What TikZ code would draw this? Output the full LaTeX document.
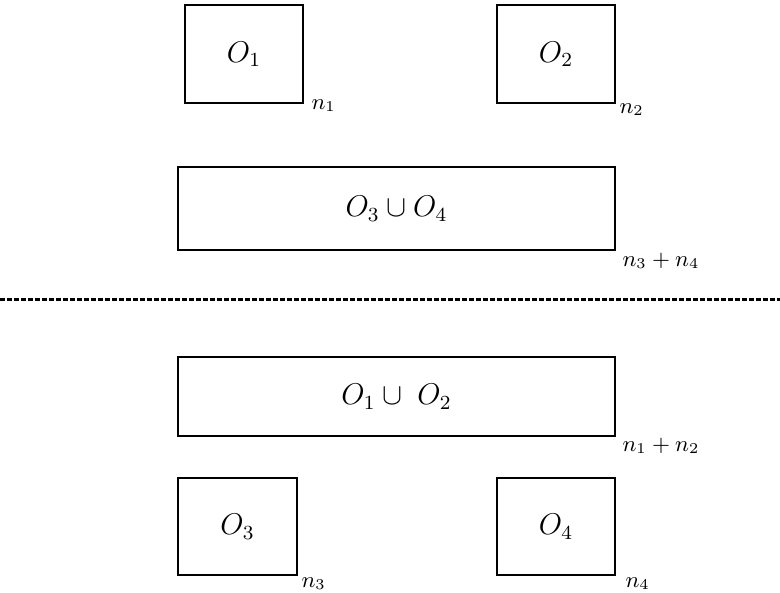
\documentclass[tikz,border=0pt]{standalone}
\usetikzlibrary{positioning}

\tikzset{
  blk/.style={draw, line width=0.8pt, inner sep=0pt, font=\large},
  lbl/.style={anchor=base west, inner sep=0pt, font=\small},
  sep/.style={line width=1.2pt, dash pattern=on 2pt off 0.8pt}
}

\begin{document}
\begin{tikzpicture}[x=0.4pt, y=-0.4pt]
% picture frame, in pixels of the 780x593 sheet (y runs downward)
\useasboundingbox (0,0) rectangle (780,593);

% Upper half: O1, O2 and the union of O3 and O4
\node[blk, minimum width=47.2pt, minimum height=39.2pt] (o1) at (244,54) {$O_1$};
\node[blk, minimum width=47.2pt, minimum height=39.2pt] (o2) at (556,54) {$O_2$};
\node[blk, minimum width=174.8pt, minimum height=33.2pt] (o34) at (396.5,208.5) {$O_3 \cup O_4$};

\node[lbl] (n1) at ([shift={(7,5)}]o1.south east) {$n_1$};
\node[lbl] (n2) at ([shift={(3,9)}]o2.south east) {$n_2$};
\node[lbl] (n34) at ([shift={(6,15)}]o34.south east) {$n_3 + n_4$};

% Separator
\coordinate (sepL) at (0,299);
\coordinate (sepR) at (780,299);
\draw[sep] (sepL) -- (sepR);

% Lower half: the union of O1 and O2, then O3, O4
\node[blk, minimum width=174.8pt, minimum height=31.6pt] (o12) at (396.5,396.5) {$O_1 \cup\; O_2$};
\node[blk, minimum width=47.6pt, minimum height=38.8pt] (o3) at (237.5,526.5) {$O_3$};
\node[blk, minimum width=47.2pt, minimum height=38.8pt] (o4) at (556,526.5) {$O_4$};

\node[lbl] (n12) at ([shift={(6,14)}]o12.south east) {$n_1 + n_2$};
\node[lbl] (n3) at ([shift={(3,11)}]o3.south east) {$n_3$};
\node[lbl] (n4) at ([shift={(9,11)}]o4.south east) {$n_4$};
\end{tikzpicture}
\end{document}
